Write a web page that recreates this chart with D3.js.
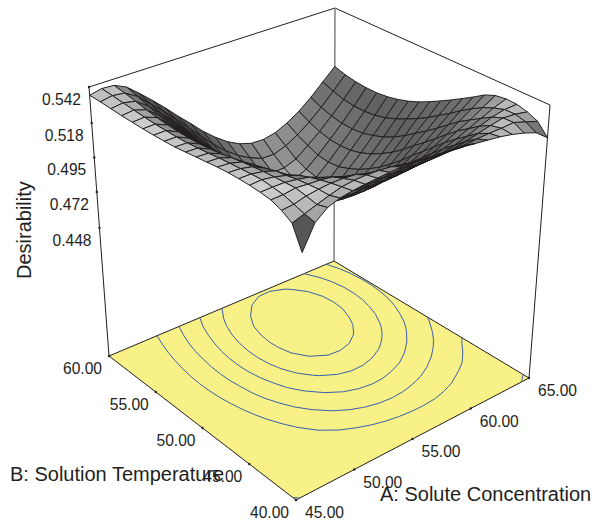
<!DOCTYPE html>
<html>
<head>
<meta charset="utf-8">
<script src="https://cdn.jsdelivr.net/npm/d3@7"></script>
<style>
body { margin: 0; background: #fff; }
text { font-family: "Liberation Sans", Arial, sans-serif; fill: #231f20; }
.ticklabel { font-size: 17px; }
.axislabel { font-size: 20px; }
</style>
</head>
<body>
<svg id="chart" width="606" height="522"></svg>
<script>
// factors
const soluteConc = [45,46,47,48,49,50,51,52,53,54,55,56,57,58,59,60,61,62,63,64,65];
const solutionTemp = [40,41,42,43,44,45,46,47,48,49,50,51,52,53,54,55,56,57,58,59,60];

const zTicks = [0.542, 0.518, 0.495, 0.472, 0.448];
const aTicks = [45, 50, 55, 60, 65];
const bTicks = [40, 45, 50, 55, 60];
const contourLevels = [465, 480, 495, 510, 525];

// desirability x 1000, one row per solution temperature
const zRows = [
[520,535.5,541.5,544,545,545.5,545.8,546,546,545.2,544.2,543.2,542,540.5,539,537.5,536,533.8,531,527.5,520.5],
[534.5,536.9,539.3,541.6,543.5,544.1,544,543.3,542.1,540.1,538.2,536.8,535.7,534.7,534.3,534.8,534.8,534.5,534.6,531.3,528],
[538.5,538.9,540.7,541.5,541.9,541.4,540.4,537.5,535.6,533.1,530.6,529.1,528.2,528,528.3,529.7,531.3,532.9,534.2,533.1,531],
[541,540.9,541.7,540.7,539.9,538.4,535.2,531.6,528.3,525.5,523.3,521.9,521.2,521.2,522,523.7,526,529.1,531.5,532.9,532.8],
[541.7,541.6,541.2,539.7,537.7,534.1,529.7,525.3,521.8,518.8,516.3,514.7,514,514.4,515.6,517.9,520.6,524,527.3,530.6,533.1],
[542,542.2,540.6,538.2,534.8,529.6,524.4,519.9,515.6,512.4,509.4,507.4,506.7,507.2,508.9,511.4,514.8,519,522.8,527.5,532.1],
[542,541.7,540,537,531.1,525.7,520.3,515.1,510.4,506,502.7,500.6,499.7,500.1,501.7,504.4,508.4,513.1,518.3,523.4,529.2],
[541.7,541,538.9,534.7,528.5,522.2,516.3,510.6,504.8,500.2,496.6,494,492.7,493,494.9,497.8,501.8,506.8,512.6,518.7,524.5],
[541,540.3,537.9,532.7,525.6,519.2,512.5,505.9,499.7,494.8,489.9,486.8,485.2,485.4,487.2,490.6,495.5,500.7,506.9,513.4,520.1],
[540,539.5,536.5,530.4,523.1,516.2,509.1,501.7,495.4,488.8,483.8,480.4,478.5,478.5,480.3,483.6,488.5,495,501.4,508.7,515.8],
[539,538.4,534.9,528.4,521.1,513.6,505.8,498.2,490.7,483.8,478.4,474.3,472.2,471.9,473.6,477.1,482.3,488.7,496.4,503.7,511.7],
[538,537.5,533.8,526.9,519.6,511.6,503.2,495.4,486.8,479.7,473.5,469,466.4,465.9,467.5,471.2,476.5,483.2,491.2,499.4,507.7],
[537,536.7,532.9,525.8,518.5,510.3,501.4,492.8,483.9,476.2,469.6,464.4,460.2,459.2,461.3,465.7,471.6,478.6,486.6,495.7,504.1],
[536.5,536.3,532.5,525.3,517.8,509.2,500.2,491,482,473.8,466.7,459.8,455.2,453.7,455.6,460.5,467.3,474.6,482.9,492.1,501.1],
[536.2,536.2,532.5,525.2,517.6,508.9,499.7,490.3,481,472.5,465,457,451.9,450.1,451.5,456.3,464.1,471.6,480.3,489.3,498.8],
[536,536.2,532.7,525.6,518.1,509.3,500,490.5,481.1,472.3,464.5,456.1,450.6,448.2,449.5,454,461.5,469.6,478.2,487.4,497.2],
[536,536.5,533.4,526.5,519,510.4,501.1,491.7,482.1,473.3,465.5,457,451.2,448.5,449.4,453.6,460.8,469,477.4,486.5,496.3],
[536,536.9,534.3,527.9,520.3,511.9,502.7,493.8,484.1,475.3,467.6,459.7,453.7,450.9,451.3,455.1,461.8,469.5,477.6,486.5,496.3],
[536.3,537.4,535.7,529.7,522,514,505.2,496.5,487.1,478.5,470.8,464.4,458.1,455.1,455.2,458.3,464.6,471.2,479,487.5,496.9],
[536.5,537.9,536.9,532,524.3,516.6,508.3,499.6,491,482.5,475.1,468.9,464.3,460.8,460.6,463.5,468.1,474,481.3,489.6,498.3],
[536.5,538.3,537.8,534,527,519.6,511.8,503.4,495.6,487.3,480.3,474.3,469.9,467.3,467,468.7,472.5,477.8,484.5,492.5,500.5]
];

let svg = d3.select("#chart");

let aScale = d3.scaleLinear().domain([45,65]).range([0,1]);
let bScale = d3.scaleLinear().domain([40,60]).range([0,1]);
let zScale = d3.scaleLinear().domain([0.3625,0.542]).range([0,1]);

// the eight corners of the plot box on screen, [low a/low b, high a/low b, low a/high b, high a/high b]
let floorBox = [[296,500],[529,378],[109,356],[334,261]];
let topBox = [[303,218],[550,105],[89,87],[335,8]];

function bilinear(box, s, t, k){
    return (1-s)*(1-t)*box[0][k] + s*(1-t)*box[1][k] + (1-s)*t*box[2][k] + s*t*box[3][k];
}
function project(a, b, z){
    let s = aScale(a), t = bScale(b), h = zScale(z);
    return [0,1].map(k => bilinear(floorBox,s,t,k)*(1-h) + bilinear(topBox,s,t,k)*h);
}
let lineGen = d3.line();

// floor
let zFloor = zScale.domain()[0], zTop = zScale.domain()[1];
svg.append("path")
    .attr("d", lineGen([project(45,40,zFloor),project(65,40,zFloor),project(65,60,zFloor),project(45,60,zFloor)])+"Z")
    .attr("fill", "#f7f187").attr("stroke", "#231f20").attr("stroke-width", 1);

// contour lines on the floor
let flat = d3.merge(zRows);
let contours = d3.contours().size([soluteConc.length, solutionTemp.length]).thresholds(contourLevels)(flat);
let aClamp = d3.scaleLinear().domain([0,20]).range([45,65]).clamp(true);
let bClamp = d3.scaleLinear().domain([0,20]).range([40,60]).clamp(true);
let contourPath = "";
contours.forEach(c => {
    c.coordinates.forEach(poly => poly.forEach(ring => {
        let pts = ring.map(p => [aClamp(p[0]-0.5), bClamp(p[1]-0.5)]);
        for(let i = 1; i < pts.length; i++){
            let p = pts[i-1], q = pts[i];
            // the polygons close along the border of the grid, those pieces are not contour lines
            let onEdge = (p[0]===q[0] && (p[0]===45 || p[0]===65)) || (p[1]===q[1] && (p[1]===40 || p[1]===60));
            if(onEdge) continue;
            contourPath += lineGen([project(p[0],p[1],zFloor), project(q[0],q[1],zFloor)]);
        }
    }));
});
svg.append("path").attr("d", contourPath).attr("fill", "none")
    .attr("stroke", "#3a5fae").attr("stroke-width", 1);

// box lines
svg.append("path")
    .attr("d", lineGen([project(45,60,zFloor),project(45,60,zTop),project(65,60,zTop),project(65,40,zTop),project(65,40,zFloor)]))
    .attr("fill", "none").attr("stroke", "#231f20").attr("stroke-width", 1);
svg.append("path")
    .attr("d", lineGen([project(65,60,zTop),project(65,60,zFloor)]))
    .attr("fill", "none").attr("stroke", "#808080").attr("stroke-width", 1.5);

// surface, cells painted from the back corner to the front one
let shade = d3.scaleLinear().domain([0,0.22]).range(["#f4f4f4","#5c5c5c"]).clamp(true);
let toLine = d3.interpolateRgb("#ffffff", "#231f20");
let surface = svg.append("g");
for(let i = soluteConc.length-2; i >= 0; i--){
    for(let j = solutionTemp.length-2; j >= 0; j--){
        let a0 = soluteConc[i], a1 = soluteConc[i+1], b0 = solutionTemp[j], b1 = solutionTemp[j+1];
        let z00 = zRows[j][i]/1000, z10 = zRows[j][i+1]/1000, z11 = zRows[j+1][i+1]/1000, z01 = zRows[j+1][i]/1000;
        let ds = (z10+z11-z00-z01)/2*20, dt = (z01+z11-z00-z10)/2*20;
        let quad = [project(a0,b0,z00),project(a1,b0,z10),project(a1,b1,z11),project(a0,b1,z01)];
        // squashed cells go dark, as they do in the finer mesh of the original
        let area = Math.abs(d3.polygonArea(quad)) + 0.1;
        let lineShare = Math.min(1, 0.9*d3.polygonLength(quad)/2/area);
        let fill = d3.interpolateRgb(shade(Math.hypot(ds,dt)), "#231f20")(lineShare);
        surface.append("path")
            .attr("d", lineGen(quad)+"Z")
            .attr("fill", fill)
            .attr("stroke", "#231f20").attr("stroke-width", 1).attr("stroke-linejoin", "round");
    }
}

// ticks and labels
function tickDot(p){
    svg.append("circle").attr("cx", p[0]).attr("cy", p[1]).attr("r", 1.2).attr("fill", "#231f20");
}
function tickLabel(p, dx, dy, anchor, str){
    svg.append("text").attr("class", "ticklabel").attr("x", p[0]+dx).attr("y", p[1]+dy)
        .attr("text-anchor", anchor).attr("textLength", 39).attr("lengthAdjust", "spacingAndGlyphs").text(str);
}
zTicks.forEach(v => {
    let p = project(45,60,v);
    tickDot(p);
    tickLabel(p, -8, 18, "end", d3.format(".3f")(v));
});
bTicks.forEach(v => {
    let p = project(45,v,zFloor);
    tickDot(p);
    tickLabel(p, -7, 18, "end", d3.format(".2f")(v));
});
aTicks.forEach(v => {
    let p = project(v,40,zFloor);
    tickDot(p);
    tickLabel(p, 9, 18, "start", d3.format(".2f")(v));
});

svg.append("text").attr("class", "axislabel").attr("x", 10).attr("y", 481).text("B: Solution Temperature");
svg.append("text").attr("class", "axislabel").attr("x", 380).attr("y", 501).text("A: Solute Concentration");
svg.append("text").attr("class", "axislabel").attr("transform", "translate(31,279) rotate(-90)").text("Desirability");
</script>
</body>
</html>
